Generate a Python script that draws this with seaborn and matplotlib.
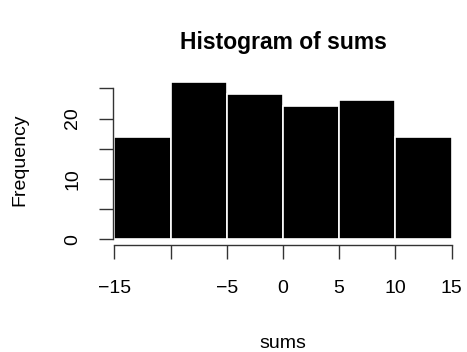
import matplotlib
matplotlib.use("Agg")
import matplotlib.pyplot as plt
import seaborn as sns
import pandas as pd

# histogram bins of sums and their counts
bin_edges = [-15, -10, -5, 0, 5, 10, 15]
counts = [17, 26, 24, 22, 23, 17]
x_ticks = [-15, -10, -5, 0, 5, 10, 15]
x_tick_labels = ["\u221215", "", "\u22125", "0", "5", "10", "15"]
y_ticks = [0, 5, 10, 15, 20, 25]
y_tick_labels = ["0", "", "10", "", "20", ""]

centers = [(a + b) / 2 for a, b in zip(bin_edges[:-1], bin_edges[1:])]
df = pd.DataFrame({"sums": centers, "n": counts})

sns.set_style("white")
plt.rcParams["font.family"] = ["Liberation Sans", "DejaVu Sans"]
plt.rcParams["text.color"] = "black"
plt.rcParams["axes.labelcolor"] = "black"

W, H = 467, 352
fig = plt.figure(figsize=(W / 100, H / 100), dpi=100)
ax = fig.add_axes([113 / W, 1 - 245 / H, (465 - 113) / W, (245 - 76) / H])

sns.histplot(data=df, x="sums", weights="n", bins=bin_edges, ax=ax,
             color="black", edgecolor="white", linewidth=1.2, alpha=1)

ax.set_xlim(-15.12, 16.2)
ax.set_ylim(-0.94, 27.04)

for s in ("top", "right"):
    ax.spines[s].set_visible(False)
ax.spines["left"].set_bounds(0, 25)
ax.spines["bottom"].set_bounds(-15, 15)
for s in ("left", "bottom"):
    ax.spines[s].set_color("#333333")
    ax.spines[s].set_linewidth(1.0)

ax.set_xticks(x_ticks)
ax.set_xticklabels(x_tick_labels)
ax.set_yticks(y_ticks)
ax.set_yticklabels(y_tick_labels, rotation=90, va="center")
ax.tick_params(axis="both", bottom=True, left=True, length=10, width=1.0,
               color="#333333", labelsize=14, labelcolor="black", direction="out")
ax.tick_params(axis="x", pad=15)
ax.tick_params(axis="y", pad=13)

ax.set_xlabel("sums", fontsize=14, va="center")
ax.set_ylabel("Frequency", fontsize=14, va="center")
ax.xaxis.set_label_coords(283 / W, 1 - 343 / H, transform=fig.transFigure)
ax.yaxis.set_label_coords(20 / W, 1 - 160 / H, transform=fig.transFigure)
fig.text(283 / W, 1 - 42 / H, "Histogram of sums", ha="center", va="center",
         fontsize=16.5, fontweight="bold")

fig.savefig("out.png", dpi=100)
